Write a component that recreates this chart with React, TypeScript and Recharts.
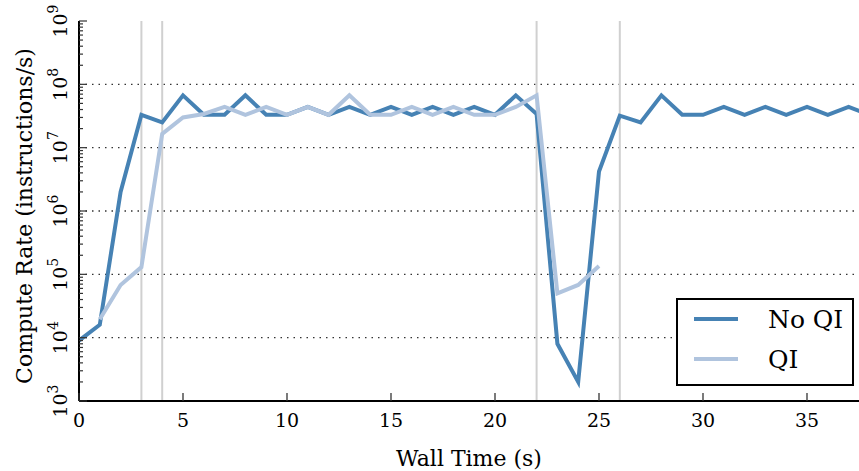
import { LineChart, Line, XAxis, YAxis, ReferenceLine, Legend } from "recharts";

const BLUE = "#4682b4";
const LIGHT = "#b0c4de";
const FONT = "DejaVu Serif";

// wall time in seconds
const seconds = [
  0, 1, 2, 3, 4, 5, 6, 7, 8, 9, 10, 11, 12, 13, 14, 15, 16, 17, 18, 19,
  20, 21, 22, 23, 24, 25, 26, 27, 28, 29, 30, 31, 32, 33, 34, 35, 36, 37, 38,
];

// compute rate, instructions/s
const noQI = [
  9e3, 1.6e4, 2e6, 3.3e7, 2.5e7, 6.7e7, 3.3e7, 3.3e7, 6.7e7, 3.3e7, 3.3e7,
  4.4e7, 3.3e7, 4.4e7, 3.3e7, 4.4e7, 3.3e7, 4.4e7, 3.3e7, 4.4e7, 3.3e7, 6.7e7,
  3.4e7, 8e3, 2e3, 4.2e6, 3.2e7, 2.5e7, 6.7e7, 3.3e7, 3.3e7, 4.4e7, 3.3e7,
  4.4e7, 3.3e7, 4.4e7, 3.3e7, 4.4e7, 3.3e7,
];
const qi = [
  null, 1.95e4, 6.8e4, 1.3e5, 1.65e7, 3e7, 3.4e7, 4.4e7, 3.3e7, 4.4e7, 3.3e7,
  4.4e7, 3.3e7, 6.7e7, 3.3e7, 3.3e7, 4.4e7, 3.3e7, 4.4e7, 3.3e7, 3.3e7, 4.4e7,
  6.7e7, 5e4, 6.8e4, 1.35e5,
];

const xTicks = [0, 5, 10, 15, 20, 25, 30, 35];
const gridDecades = [1e4, 1e5, 1e6, 1e7, 1e8];
const markers = [3, 4, 22, 26];

const yTicks: number[] = [];
for (let e = 3; e < 9; e++) {
  for (let m = 1; m < 10; m++) yTicks.push(m * Math.pow(10, e));
}
yTicks.push(1e9);

const rows = seconds.map((t, i) => ({
  t,
  noQI: noQI[i],
  qi: qi[i] ?? null,
}));

const isDecade = (v: number) => {
  const l = Math.log10(v);
  return Math.abs(l - Math.round(l)) < 1e-6;
};

const BottomTick = (props: any) => {
  const { x, y, payload } = props;
  return (
    <g>
      <line x1={x} x2={x} y1={y} y2={y - 8} stroke="#333" strokeWidth={1.3} />
      <text x={x} y={y + 26} textAnchor="middle" style={{ fontFamily: FONT, fontSize: 19 }} fill="#000">
        {payload.value}
      </text>
    </g>
  );
};

const TopTick = (props: any) => {
  const { x, y } = props;
  return <line x1={x} x2={x} y1={y} y2={y + 8} stroke="#333" strokeWidth={1.3} />;
};

const LeftTick = (props: any) => {
  const { x, y, payload } = props;
  const v = payload.value as number;
  const major = isDecade(v);
  return (
    <g>
      <line x1={x} x2={x + (major ? 8 : 4)} y1={y} y2={y} stroke="#333" strokeWidth={1.2} />
      {major && (
        <text
          x={x - 12}
          y={y}
          transform={`rotate(-90 ${x - 12} ${y})`}
          textAnchor="middle"
          style={{ fontFamily: FONT, fontSize: 19 }}
          fill="#000"
        >
          <tspan>10</tspan>
          <tspan dy={-9} style={{ fontSize: 14 }}>
            {Math.round(Math.log10(v))}
          </tspan>
        </text>
      )}
    </g>
  );
};

const LegendBox = () => (
  <svg width={178} height={88} style={{ display: "block" }}>
    <rect x={1} y={1} width={176} height={86} fill="#fff" stroke="#000" strokeWidth={2} />
    <line x1={18} x2={62} y1={21} y2={21} stroke={BLUE} strokeWidth={4} />
    <line x1={18} x2={62} y1={61} y2={61} stroke={LIGHT} strokeWidth={4} />
    <text x={92} y={30} style={{ fontFamily: FONT, fontSize: 25 }} fill="#000">
      No QI
    </text>
    <text x={92} y={70} style={{ fontFamily: FONT, fontSize: 25 }} fill="#000">
      QI
    </text>
  </svg>
);

export default function App() {
  return (
    <div style={{ width: 859, height: 471, background: "#fff" }}>
      <style>{`body{margin:0}`}</style>
      <LineChart
        width={859}
        height={471}
        data={rows}
        margin={{ top: 21, right: 0, bottom: 0, left: 0 }}
      >
        <XAxis
          dataKey="t"
          type="number"
          domain={[0, 37.5]}
          allowDataOverflow
          ticks={xTicks}
          interval={0}
          height={70}
          tickSize={0}
          tickMargin={0}
          tickLine={false}
          axisLine={{ stroke: "#000", strokeWidth: 2 }}
          tick={<BottomTick />}
          label={{
            value: "Wall Time (s)",
            position: "insideBottom",
            offset: 5,
            fill: "#000",
            style: { fontFamily: FONT, fontSize: 22 },
          }}
        />
        <XAxis
          xAxisId="top"
          orientation="top"
          dataKey="t"
          type="number"
          domain={[0, 37.5]}
          allowDataOverflow
          ticks={xTicks}
          interval={0}
          height={0}
          tickSize={0}
          tickMargin={0}
          tickLine={false}
          axisLine={{ stroke: "#000", strokeWidth: 2 }}
          tick={<TopTick />}
        />
        <YAxis
          type="number"
          scale="log"
          domain={[1e3, 1e9]}
          allowDataOverflow
          ticks={yTicks}
          interval={0}
          width={79}
          tickSize={0}
          tickMargin={0}
          tickLine={false}
          axisLine={{ stroke: "#000", strokeWidth: 2 }}
          tick={<LeftTick />}
          label={{
            value: "Compute Rate (instructions/s)",
            angle: -90,
            position: "insideLeft",
            offset: 24,
            dy: 5,
            fill: "#000",
            style: { textAnchor: "middle", fontFamily: FONT, fontSize: 22 },
          }}
        />
        {gridDecades.map((d) => (
          <ReferenceLine key={d} y={d} stroke="#333" strokeWidth={1.3} strokeDasharray="1.5 5" />
        ))}
        {markers.map((m) => (
          <ReferenceLine key={m} x={m} stroke="#d0d0d0" strokeWidth={2} />
        ))}
        <Line
          isAnimationActive={false}
          dataKey="noQI"
          name="No QI"
          stroke={BLUE}
          strokeWidth={4}
          dot={false}
          type="linear"
        />
        <Line
          isAnimationActive={false}
          dataKey="qi"
          name="QI"
          stroke={LIGHT}
          strokeWidth={4}
          dot={false}
          type="linear"
        />
        <Legend
          layout="horizontal"
          verticalAlign="middle"
          align="center"
          content={<LegendBox />}
          wrapperStyle={{ left: 676, top: 298, width: 178, height: 88 }}
        />
      </LineChart>
    </div>
  );
}
